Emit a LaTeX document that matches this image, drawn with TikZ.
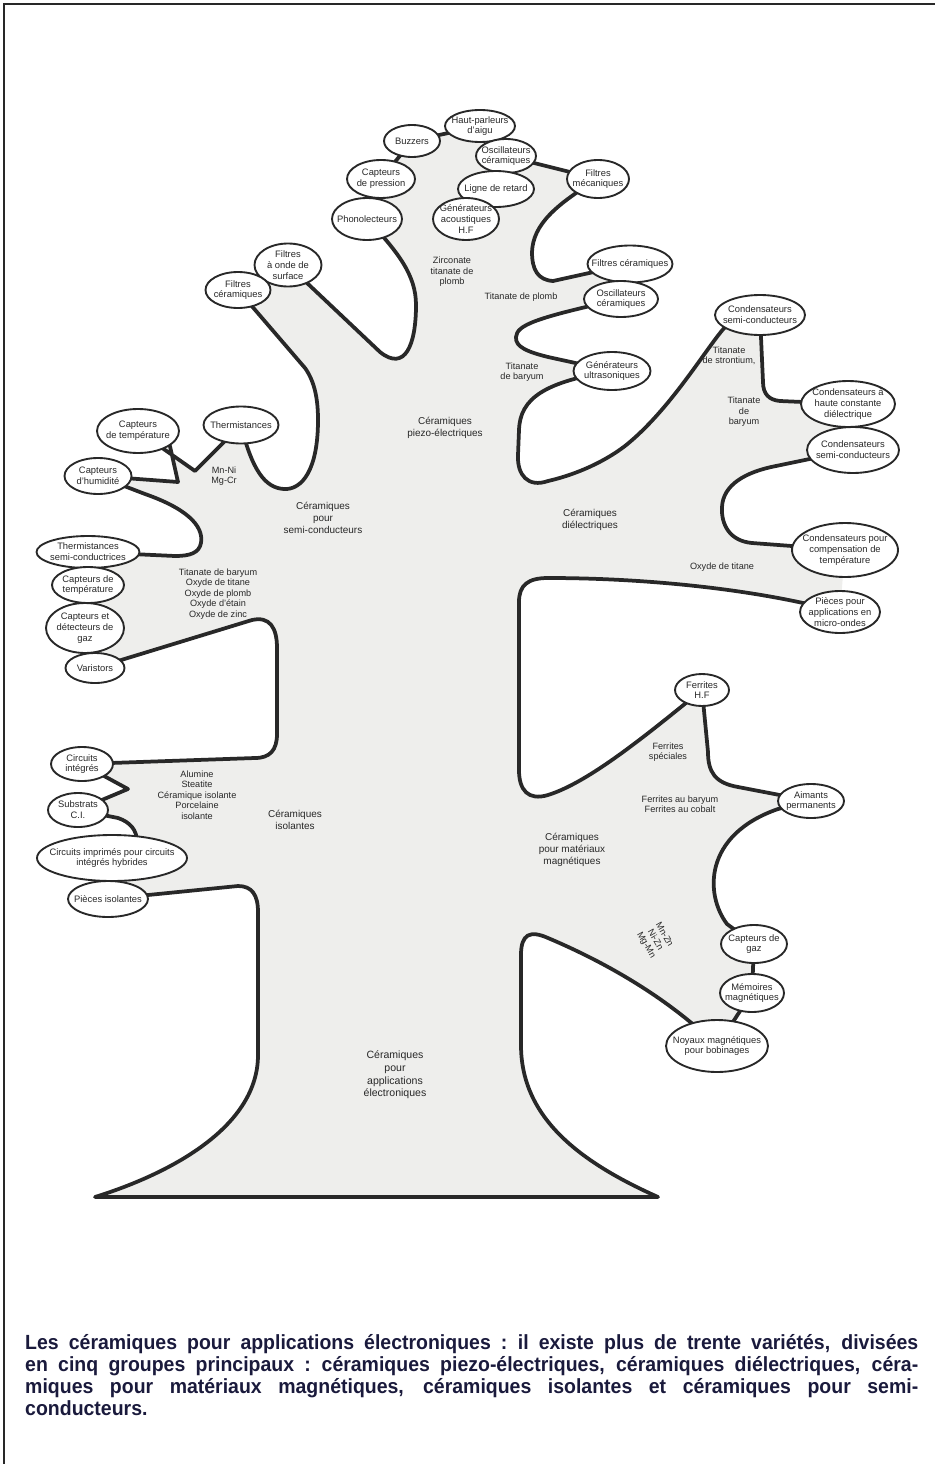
\documentclass[tikz,border=0pt]{standalone}
\usepackage{fontspec}
\setmainfont{Liberation Sans}
\newfontfamily\capfont[FakeStretch=0.95]{Liberation Sans}
\usepackage{tikz}
\usetikzlibrary{shapes.geometric,backgrounds}
\usepackage{xcolor}
\definecolor{inkc}{RGB}{40,40,40}
\definecolor{treefill}{RGB}{238,238,236}
\definecolor{capc}{RGB}{26,26,60}
\newcommand{\leaffont}{\fontsize{8}{9.2}\selectfont}
\newcommand{\branchfont}{\fontsize{7.8}{8.9}\selectfont}
\newcommand{\groupfont}{\fontsize{8.5}{10.2}\selectfont}
\newcommand{\elecfont}{\fontsize{9}{10.8}\selectfont}
\newcommand{\capline}[1]{\leavevmode\hbox to 26.79cm{\spaceskip=0.278em plus 3em minus 0.05em
    \xspaceskip=0.3em plus 3em minus 0.05em #1}}

\begin{document}
\begin{tikzpicture}[x=0.03cm,y=-0.03cm,
    leaf/.style 2 args={ellipse,draw=inkc,line width=1.6pt,fill=white,inner sep=0pt,
        minimum width=#1*0.03cm,minimum height=#2*0.03cm},
    leaftxt/.style={font=\leaffont,align=center,inner sep=0pt,text=inkc},
    branch/.style={font=\branchfont,align=center,inner sep=0pt,text=inkc},
    group/.style={font=\groupfont,align=center,inner sep=0pt,text=inkc},
    outline/.style={draw=inkc,line width=3.2pt,line join=round,line cap=round,fill=treefill},
    captxt/.style={font=\capfont\bfseries\fontsize{17.5}{18.7}\selectfont,text=capc,
        align=left,inner sep=0pt,text width=26.79cm}]
\useasboundingbox (0,0) rectangle (935,1464);
\draw[inkc,line width=1.2pt] (935,4) -- (4,4) -- (4,1464);

% piezo-electriques
\node[leaf={70}{32},label={[leaftxt]center:Haut-parleurs\\d'aigu}] (haut) at (480,126) {};
\node[leaf={56}{32},label={[leaftxt]center:Buzzers}] (buzz) at (412,141) {};
\node[leaf={60}{34},label={[leaftxt]center:Oscillateurs\\céramiques}] (osctop) at (506,156) {};
\node[leaf={68}{38},label={[leaftxt]center:Capteurs\\de pression}] (cpress) at (381,179) {};
\node[leaf={76}{36},label={[leaftxt]center:Ligne de retard}] (ligne) at (496,189) {};
\node[leaf={62}{38},label={[leaftxt]center:Filtres\\mécaniques}] (fmeca) at (598,179) {};
\node[leaf={70}{42},label={[leaftxt]center:Phonolecteurs}] (phono) at (367,219) {};
\node[leaf={66}{42},label={[leaftxt]center:Générateurs\\acoustiques\\H.F}] (gacou) at (466,219) {};
\node[leaf={85}{37},label={[leaftxt]center:Filtres céramiques}] (fcerR) at (630,264) {};
\node[leaf={74}{36},label={[leaftxt]center:Oscillateurs\\céramiques}] (oscmid) at (621,299) {};
\node[leaf={77}{38},label={[leaftxt]center:Générateurs\\ultrasoniques}] (gultra) at (612,371) {};
\node[leaf={67}{43},label={[leaftxt]center:Filtres\\à onde de\\surface}] (fonde) at (288,265) {};
\node[leaf={65}{36},label={[leaftxt]center:Filtres\\céramiques}] (fcerL) at (238,290) {};

% semi-conducteurs
\node[leaf={75}{37},label={[leaftxt]center:Thermistances}] (therm) at (241,425) {};
\node[leaf={82}{44},label={[leaftxt]center:Capteurs\\de température}] (ctemp1) at (138,431) {};
\node[leaf={67}{36},label={[leaftxt]center:Capteurs\\d'humidité}] (chum) at (98,476) {};
\node[leaf={103}{32},label={[leaftxt]center:Thermistances\\semi-conductrices}] (tsemi) at (88,552) {};
\node[leaf={72}{36},label={[leaftxt]center:Capteurs de\\température}] (ctemp2) at (88,585) {};
\node[leaf={78}{50},label={[leaftxt]center:Capteurs et\\détecteurs de\\gaz}] (cgaz) at (85,628) {};
\node[leaf={59}{30},label={[leaftxt]center:Varistors}] (varis) at (95,668) {};

% isolantes
\node[leaf={62}{34},label={[leaftxt]center:Circuits\\intégrés}] (cint) at (82,764) {};
\node[leaf={60}{34},label={[leaftxt]center:Substrats\\C.I.}] (subst) at (78,810) {};
\node[leaf={150}{46},label={[leaftxt]center:Circuits imprimés pour circuits\\intégrés hybrides}] (cimp) at (112,858) {};
\node[leaf={80}{36},label={[leaftxt]center:Pièces isolantes}] (pisol) at (108,899) {};

% dielectriques
\node[leaf={90}{40},label={[leaftxt]center:Condensateurs\\semi-conducteurs}] (condtop) at (760,315) {};
\node[leaf={94}{46},label={[leaftxt]center:Condensateurs à\\haute constante\\diélectrique}] (haute) at (848,404) {};
\node[leaf={92}{46},label={[leaftxt]center:Condensateurs\\semi-conducteurs}] (semi2) at (853,450) {};
\node[leaf={106}{54},label={[leaftxt]center:Condensateurs pour\\compensation de\\température}] (compens) at (845,550) {};
\node[leaf={80}{42},label={[leaftxt]center:Pièces pour\\applications en\\micro-ondes}] (pmicro) at (840,612) {};

% magnetiques
\node[leaf={54}{32},label={[leaftxt]center:Ferrites\\H.F}] (ferr) at (702,690) {};
\node[leaf={66}{34},label={[leaftxt]center:Aimants\\permanents}] (aim) at (811,801) {};
\node[leaf={66}{38},label={[leaftxt]center:Capteurs de\\gaz}] (cgazR) at (754,944) {};
\node[leaf={64}{38},label={[leaftxt]center:Mémoires\\magnétiques}] (mem) at (752,993) {};
\node[leaf={102}{52},label={[leaftxt]center:Noyaux magnétiques\\pour bobinages}] (noyaux) at (717,1046) {};

% contour de l'arbre
\begin{pgfonlayer}{background}
\filldraw[outline] (compens.center) -- (752,543)
  .. controls (730,541) and (721,525) .. (722,507)
  .. controls (723,485) and (745,472) .. (776,466) -- (semi2.center)
  -- (haute.center) -- (780,401) .. controls (769,400) and (763,394) .. (763,382) -- (condtop.center)
  -- (condtop.200) .. controls (705,350) and (670,410) .. (625,446)
  .. controls (600,465) and (570,476) .. (548,481)
  .. controls (528,488) and (517,475) .. (518,455)
  -- (519,430) .. controls (520,398) and (545,382) .. (gultra.center)
  -- (548,357) .. controls (528,352) and (515,347) .. (516,337)
  .. controls (517,325) and (535,318) .. (oscmid.center)
  -- (fcerR.center) -- (553,281) .. controls (538,280) and (532,270) .. (532,252)
  .. controls (533,225) and (555,205) .. (fmeca.center)
  -- (osctop.center) -- (haut.center) -- (buzz.center) -- (cpress.center) -- (phono.center)
  .. controls (398,252) and (416,275) .. (416,305)
  .. controls (416,345) and (405,372) .. (380,352) -- (fonde.center)
  -- (fcerL.center) -- (305,368) .. controls (315,382) and (318,400) .. (318,420)
  .. controls (318,470) and (302,490) .. (284,489)
  .. controls (265,488) and (252,470) .. (therm.center)
  -- (195,471) -- (ctemp1.center) -- (ctemp1.-25) -- (178,482) -- (chum.center)
  -- (145,494) .. controls (185,508) and (204,525) .. (201,543)
  .. controls (199,553) and (190,556) .. (175,556) -- (tsemi.center)
  -- (ctemp2.center) -- (cgaz.center) -- (varis.center)
  -- (252,620) .. controls (270,616) and (277,628) .. (277,648)
  -- (277,734) .. controls (277,750) and (270,758) .. (255,758) -- (cint.center)
  -- (128,789) -- (subst.center)
  -- (118,818) .. controls (130,822) and (137,830) .. (137,842) -- (cimp.center)
  -- (pisol.center) -- (238,886) .. controls (252,886) and (258,895) .. (258,912)
  -- (258,1055) .. controls (258,1125) and (175,1172) .. (95,1197)
  -- (658,1197) .. controls (575,1160) and (521,1115) .. (521,1045)
  -- (521,955) .. controls (521,934) and (530,930) .. (548,938)
  .. controls (600,960) and (665,995) .. (noyaux.center)
  -- (mem.center) -- (cgazR.center)
  -- (727,924) .. controls (705,895) and (703,835) .. (778,809) -- (aim.center)
  -- (738,787) .. controls (715,783) and (708,772) .. (708,752) -- (ferr.center)
  .. controls (650,732) and (590,782) .. (548,795)
  .. controls (528,801) and (519,790) .. (519,770)
  -- (519,602) .. controls (519,585) and (528,578) .. (548,578)
  .. controls (650,578) and (760,590) .. (pmicro.center);
\end{pgfonlayer}

% textes des branches
\node[branch] (zirc) at (452,272) {Zirconate\\titanate de\\plomb};
\node[branch] (tplomb) at (521,297) {Titanate de plomb};
\node[branch] (tbar1) at (522,372) {Titanate\\de baryum};
\node[group] (piezo) at (445,428) {Céramiques\\piezo-électriques};
\node[branch] (tstron) at (729,356) {Titanate\\de strontium,};
\node[branch] (tbar2) at (744,412) {Titanate\\de\\baryum};
\node[group] (dielec) at (590,520) {Céramiques\\diélectriques};
\node[branch] (oxtit) at (722,567) {Oxyde de titane};
\node[branch] (mnni) at (224,476) {Mn-Ni\\Mg-Cr};
\node[group] (semic) at (323,518) {Céramiques\\pour\\semi-conducteurs};
\node[branch] (oxydes) at (218,594) {Titanate de baryum\\Oxyde de titane\\Oxyde de plomb\\Oxyde d'étain\\Oxyde de zinc};
\node[branch] (fspec) at (668,752) {Ferrites\\spéciales};
\node[branch] (fbar) at (680,804) {Ferrites au baryum\\Ferrites au cobalt};
\node[group] (magn) at (572,850) {Céramiques\\pour matériaux\\magnétiques};
\node[branch] (alum) at (197,795) {Alumine\\Steatite\\Céramique isolante\\Porcelaine\\isolante};
\node[group] (isol) at (295,820) {Céramiques\\isolantes};
\node[branch,rotate=-60] (mnzn) at (655,940) {Mn-Zn\\Ni-Zn\\Mg-Mn};
\node[group,font=\elecfont] (elec) at (395,1075) {Céramiques\\pour\\applications\\électroniques};

% legende
\node[captxt,anchor=north west] (cap) at (25,1334) {%
\capline{Les céramiques pour applications électroniques : il existe plus de trente variétés, divisées}\\
\capline{en cinq groupes principaux : céramiques piezo-électriques, céramiques diélectriques, céra-}\\
\capline{miques pour matériaux magnétiques, céramiques isolantes et céramiques pour semi-}\\
conducteurs.};
\end{tikzpicture}
\end{document}
